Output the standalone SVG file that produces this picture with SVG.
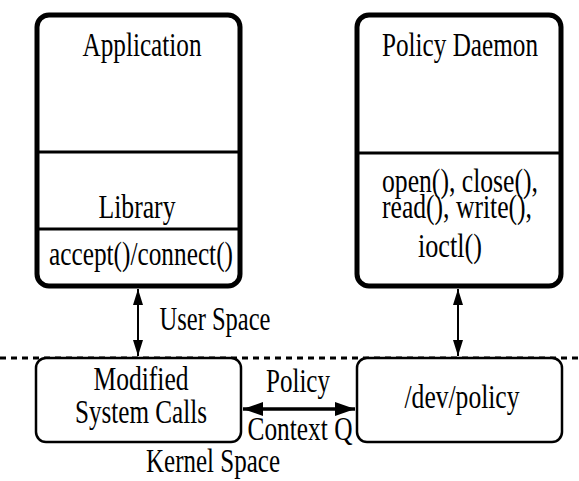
<svg xmlns="http://www.w3.org/2000/svg" width="579" height="481" viewBox="0 0 579 481">
<defs>
<style>
text{font-family:'Liberation Serif','DejaVu Serif','Noto Serif',serif;font-size:33px;fill:#000;text-anchor:middle}
.big{fill:#fff;stroke:#000;stroke-width:5}
.small{fill:#fff;stroke:#000;stroke-width:2.5}
.div{stroke:#000;stroke-width:3}
.conn{stroke:#000;fill:none}
</style>
<marker id="ah" viewBox="0 0 16 10" refX="16" refY="5" markerWidth="16" markerHeight="10" markerUnits="userSpaceOnUse" orient="auto-start-reverse">
<path d="M0,0 L16,5 L0,10 Z" fill="#000"/>
</marker>
<marker id="ahb" viewBox="0 0 20 14" refX="20" refY="7" markerWidth="20" markerHeight="14" markerUnits="userSpaceOnUse" orient="auto-start-reverse">
<path d="M0,0 L20,7 L0,14 Z" fill="#000"/>
</marker>
</defs>
<rect width="579" height="481" fill="#fff"/>
<line x1="0" y1="358" x2="579" y2="358" stroke="#000" stroke-width="3" stroke-dasharray="6,5"/>
<g id="application">
<rect class="big" x="37" y="15" width="203" height="271" rx="12"/>
<line class="div" x1="37" y1="152" x2="240" y2="152"/>
<line class="div" x1="37" y1="229" x2="240" y2="229"/>
<text x="142" y="56" textLength="119" lengthAdjust="spacingAndGlyphs">Application</text>
<text x="137" y="218" textLength="77" lengthAdjust="spacingAndGlyphs">Library</text>
<text x="141" y="265" textLength="184" lengthAdjust="spacingAndGlyphs">accept()/connect()</text>
</g>
<g id="policy-daemon">
<rect class="big" x="357" y="15" width="204" height="271" rx="12"/>
<line class="div" x1="357" y1="153" x2="561" y2="153"/>
<text x="460" y="56" textLength="156" lengthAdjust="spacingAndGlyphs">Policy Daemon</text>
<text x="460" y="192" textLength="156" lengthAdjust="spacingAndGlyphs">open(), close(),</text>
<text x="457" y="218" textLength="150" lengthAdjust="spacingAndGlyphs">read(), write(),</text>
<text x="450" y="257" textLength="64" lengthAdjust="spacingAndGlyphs">ioctl()</text>
</g>
<g id="modified-system-calls">
<rect class="small" x="36" y="358" width="205" height="84" rx="10"/>
<text x="141" y="390" textLength="95" lengthAdjust="spacingAndGlyphs">Modified</text>
<text x="141" y="423" textLength="132" lengthAdjust="spacingAndGlyphs">System Calls</text>
</g>
<g id="dev-policy">
<rect class="small" x="357" y="358" width="205" height="84" rx="10"/>
<text x="462" y="408" textLength="115" lengthAdjust="spacingAndGlyphs">/dev/policy</text>
</g>
<g id="labels">
<text x="215" y="330" textLength="111" lengthAdjust="spacingAndGlyphs">User Space</text>
<text x="298" y="392" textLength="64" lengthAdjust="spacingAndGlyphs">Policy</text>
<text x="300" y="440" textLength="105" lengthAdjust="spacingAndGlyphs">Context Q</text>
<text x="213" y="472" textLength="134" lengthAdjust="spacingAndGlyphs">Kernel Space</text>
</g>
<g id="connectors">
<line class="conn" stroke-width="2" x1="138" y1="289" x2="138" y2="356" marker-start="url(#ah)" marker-end="url(#ah)"/>
<line class="conn" stroke-width="2" x1="458" y1="289" x2="458" y2="356" marker-start="url(#ah)" marker-end="url(#ah)"/>
<line class="conn" stroke-width="3.5" x1="243" y1="409" x2="355" y2="409" marker-start="url(#ahb)" marker-end="url(#ahb)"/>
</g>
</svg>
